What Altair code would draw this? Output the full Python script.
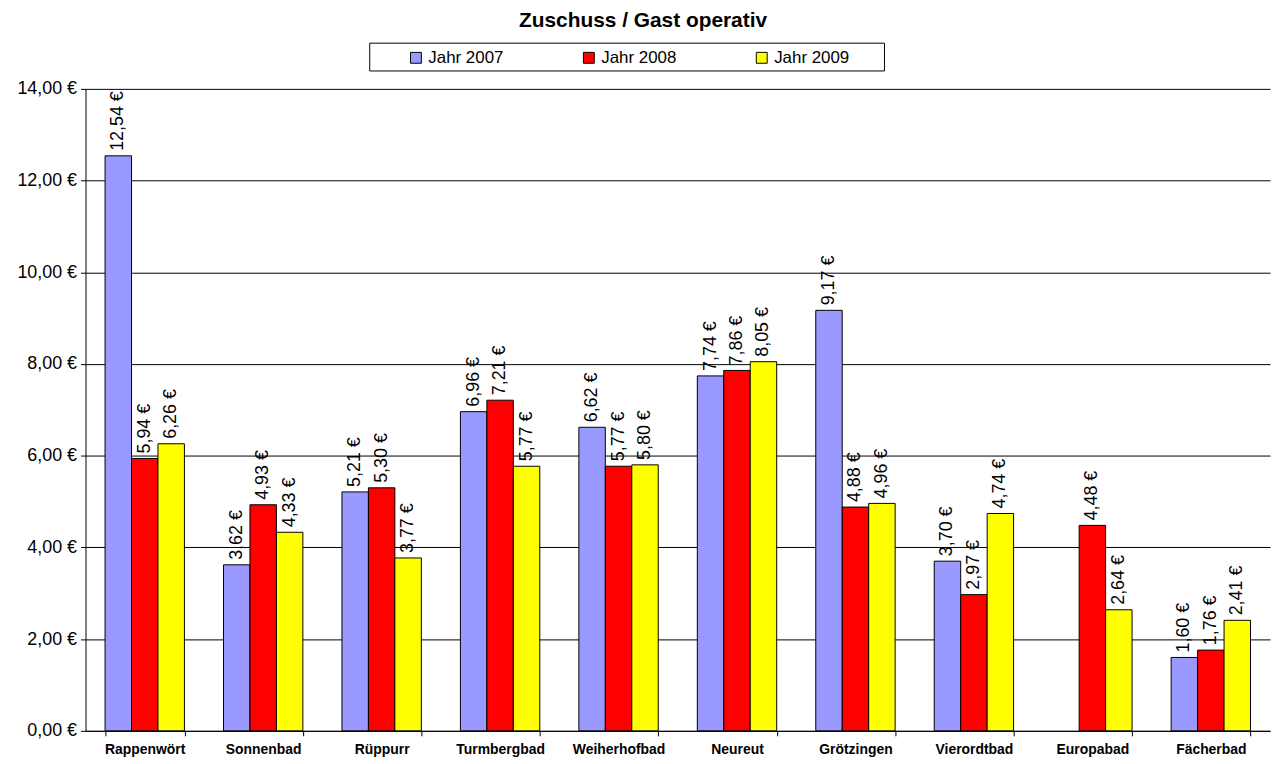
import altair as alt
import pandas as pd

baeder = ["Rappenwört", "Sonnenbad", "Rüppurr", "Turmbergbad", "Weiherhofbad",
          "Neureut", "Grötzingen", "Vierordtbad", "Europabad", "Fächerbad"]
jahre = ["Jahr 2007", "Jahr 2008", "Jahr 2009"]
w2007 = [12.54, 3.62, 5.21, 6.96, 6.62, 7.74, 9.17, 3.70, None, 1.60]
w2008 = [5.94, 4.93, 5.30, 7.21, 5.77, 7.86, 4.88, 2.97, 4.48, 1.76]
w2009 = [6.26, 4.33, 3.77, 5.77, 5.80, 8.05, 4.96, 4.74, 2.64, 2.41]
farben = ["#9999FF", "#FF0000", "#FFFF00"]
y_ticks = [0, 2, 4, 6, 8, 10, 12, 14]

rows = []
for jahr, werte in zip(jahre, [w2007, w2008, w2009]):
    for bad, v in zip(baeder, werte):
        if v is None:
            continue
        rows.append({"Bad": bad, "Jahr": jahr, "Wert": v,
                     "Label": f"{v:.2f}".replace(".", ",") + " €"})
df = pd.DataFrame(rows)

FONT = "Arial, Liberation Sans, sans-serif"

base = alt.Chart(df).encode(
    x=alt.X("Bad:N", sort=baeder,
            scale=alt.Scale(paddingInner=0.33, paddingOuter=0.165),
            axis=alt.Axis(title=None, labelAngle=0, labelFontWeight="bold",
                          labelFontSize=14, labelFont=FONT, labelColor="black",
                          tickBand="extent", tickSize=5, labelPadding=7,
                          grid=False, domainColor="black", tickColor="black")),
    xOffset=alt.XOffset("Jahr:N", sort=jahre,
                        scale=alt.Scale(paddingInner=0, paddingOuter=0)),
    y=alt.Y("Wert:Q", scale=alt.Scale(domain=[0, 14], nice=False),
            axis=alt.Axis(title=None, values=y_ticks, grid=True,
                          gridColor="black", gridOpacity=1, gridWidth=1,
                          labelExpr="replace(format(datum.value, '.2f'), '.', ',') + ' €'",
                          labelFontSize=18, labelFont=FONT, labelColor="black",
                          tickSize=5, labelPadding=4,
                          domainColor="black", tickColor="black")),
)

# legend frame (drawn behind the legend entries)
legend_box = alt.Chart(pd.DataFrame({"k": [0]})).mark_rect(
    fill="white", stroke="black", strokeWidth=1
).encode(x=alt.value(286), x2=alt.value(804), y=alt.value(-46), y2=alt.value(-18))

bars = base.mark_bar(stroke="black", strokeWidth=1).encode(
    color=alt.Color("Jahr:N",
                    scale=alt.Scale(domain=jahre, range=farben),
                    legend=alt.Legend(
                        title=None, orient="none", legendX=286, legendY=-45,
                        direction="horizontal", columns=3,
                        padding=5,
                        symbolType="square", symbolSize=120,
                        symbolStrokeColor="black", symbolStrokeWidth=1,
                        symbolOffset=33, columnPadding=44,
                        labelFont=FONT, labelFontSize=17, labelColor="black",
                        labelOffset=4,
                    ))
)

text = base.mark_text(angle=270, align="left", baseline="middle", dx=5,
                      font=FONT, fontSize=18, color="black").encode(
    text="Label:N"
)

chart = alt.layer(legend_box, bars, text).properties(
    width=1192, height=646,
    title=alt.TitleParams("Zuschuss / Gast operativ", font=FONT, fontSize=21,
                          fontWeight="bold", color="black", anchor="middle",
                          dx=-35, offset=12),
    autosize=alt.AutoSizeParams(type="none"),
    padding={"left": 78, "top": 79, "right": 8, "bottom": 30},
).configure_view(stroke=None)

chart.save("out.html", embed_options={"renderer": "svg", "actions": False})
